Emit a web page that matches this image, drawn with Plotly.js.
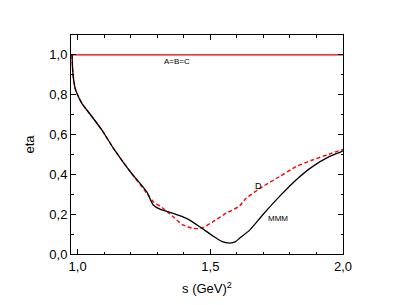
<!DOCTYPE html>
<html><head><meta charset="utf-8">
<script src="https://cdn.plot.ly/plotly-3.0.1.min.js"></script>
<style>html,body{margin:0;padding:0;background:#fff}#chart{width:399px;height:305px}</style>
</head><body><div id="chart"></div>
<script>
// A=B=C constant line
const abcX = [0.975, 2.0];
const abcY = [1.0, 1.0];
// MMM (black solid)
const mmmX = [0.979, 0.981, 0.985, 0.991, 0.998, 1.016, 1.054, 1.091, 1.135, 1.198, 1.26, 1.285, 1.31, 1.36, 1.41, 1.46, 1.51, 1.545, 1.573, 1.595, 1.61, 1.648, 1.697, 1.76, 1.823, 1.885, 1.948, 1.99, 2.0];
const mmmY = [1.0, 0.93, 0.874, 0.83, 0.805, 0.757, 0.69, 0.623, 0.531, 0.414, 0.313, 0.246, 0.225, 0.204, 0.179, 0.137, 0.09, 0.062, 0.055, 0.062, 0.079, 0.12, 0.196, 0.288, 0.372, 0.439, 0.489, 0.512, 0.518];
// D (red dashed)
const dX = [0.979, 0.981, 0.985, 0.991, 0.998, 1.016, 1.054, 1.091, 1.135, 1.198, 1.266, 1.285, 1.322, 1.36, 1.397, 1.435, 1.466, 1.51, 1.56, 1.61, 1.635, 1.697, 1.76, 1.823, 1.885, 1.948, 2.0];
const dY = [1.0, 0.93, 0.874, 0.83, 0.805, 0.757, 0.69, 0.623, 0.531, 0.414, 0.296, 0.263, 0.23, 0.187, 0.146, 0.129, 0.129, 0.162, 0.205, 0.241, 0.28, 0.338, 0.388, 0.439, 0.472, 0.502, 0.525];

const traces = [
  {x: abcX, y: abcY, mode: 'lines', line: {color: '#e00000', width: 1.2}, hoverinfo: 'skip'},
  {x: dX, y: dY, mode: 'lines', line: {color: '#ff0000', width: 1.4, dash: '4px,2.5px', shape: 'spline', smoothing: 0.6}, hoverinfo: 'skip'},
  {x: mmmX, y: mmmY, mode: 'lines', line: {color: '#000000', width: 1.3, shape: 'spline', smoothing: 0.6}, hoverinfo: 'skip'}
];

const axisCommon = {
  showgrid: false, zeroline: false, showline: true, linecolor: '#000', linewidth: 1,
  mirror: 'ticks', ticks: 'inside', ticklen: 5, tickcolor: '#000', tickwidth: 1,
  tickfont: {family: 'Liberation Sans, Arial, sans-serif', size: 13, color: '#000'},
  tickformat: '.1f'
};

const layout = {
  width: 399, height: 305,
  margin: {l: 71, r: 56, t: 35, b: 51},
  paper_bgcolor: '#fff', plot_bgcolor: '#fff',
  showlegend: false,
  separators: ',.',
  font: {family: 'Liberation Sans, Arial, sans-serif', color: '#000'},
  xaxis: Object.assign({}, axisCommon, {
    range: [0.975, 2.0], dtick: 0.5, tick0: 1.0,
    minor: {dtick: 0.1, tick0: 1.0, ticks: 'inside', ticklen: 2.5, tickcolor: '#000', showgrid: false},
    title: {text: 's (GeV)<sup>2</sup>', font: {size: 13, color: '#000'}, standoff: 11}
  }),
  yaxis: Object.assign({}, axisCommon, {
    range: [0, 1.1], dtick: 0.2, tick0: 0,
    minor: {dtick: 0.1, tick0: 0, ticks: 'inside', ticklen: 2.5, tickcolor: '#000', showgrid: false},
    title: {text: 'eta', font: {size: 13, color: '#000'}, standoff: 11}
  }),
  annotations: [
    {x: 1.375, y: 0.965, text: 'A=B=C', showarrow: false, font: {size: 8, color: '#000'}},
    {x: 1.68, y: 0.342, text: 'D', showarrow: false, font: {size: 9, color: '#000'}},
    {x: 1.755, y: 0.176, text: 'MMM', showarrow: false, font: {size: 8, color: '#000'}}
  ]
};

Plotly.newPlot('chart', traces, layout, {staticPlot: true, displayModeBar: false});
</script></body></html>
